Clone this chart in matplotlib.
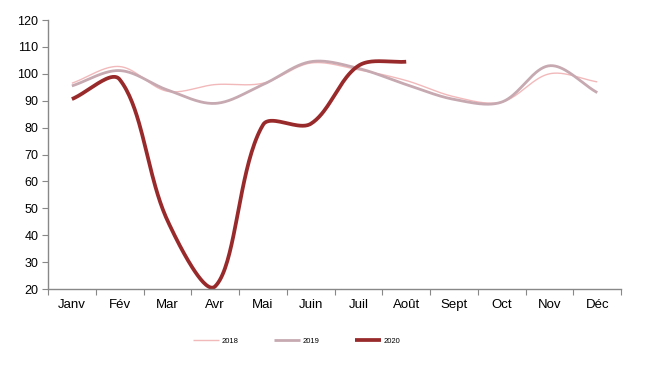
import numpy as np
import matplotlib
matplotlib.use('Agg')
import matplotlib.pyplot as plt

plt.rcParams['font.family'] = ['Liberation Sans', 'DejaVu Sans']

months = ['Janv', 'Fév', 'Mar', 'Avr', 'Mai', 'Juin', 'Juil', 'Août', 'Sept', 'Oct', 'Nov', 'Déc']
v2018 = [96.5, 102.7, 93.5, 96, 96.5, 104, 101.5, 97.5, 91.5, 89.5, 100, 97]
v2019 = [95.5, 101.2, 94, 89, 96, 104.5, 102, 96, 90.5, 89.5, 103, 93]
v2020 = [90.6, 97.9, 45.5, 21, 81, 81.4, 103, 104.5]

# pixel scale of one unit in x and y, used to smooth like a spreadsheet would
XPX, YPX = 47.8, 2.69


def smooth(vals, n=40, f=1 / 3):
    """Bezier smoothing through the points, handles scaled by segment length."""
    p = np.column_stack([np.arange(len(vals)) * XPX, np.asarray(vals, float) * YPX])
    m = len(p)
    cin, cout = [], []
    for i in range(m):
        p0 = p[i - 1] if i > 0 else p[i]
        p2 = p[i + 1] if i < m - 1 else p[i]
        tvec = p2 - p0
        d01 = np.linalg.norm(p[i] - p0)
        d12 = np.linalg.norm(p2 - p[i])
        tot = d01 + d12 if d01 + d12 > 0 else 1
        cin.append(p[i] - tvec * f * d01 / tot)
        cout.append(p[i] + tvec * f * d12 / tot)
    out = [p[0]]
    t = np.linspace(0, 1, n)[1:, None]
    for i in range(m - 1):
        p1, c1, c2, p2 = p[i], cout[i], cin[i + 1], p[i + 1]
        seg = ((1 - t) ** 3) * p1 + 3 * ((1 - t) ** 2) * t * c1 + 3 * (1 - t) * t ** 2 * c2 + t ** 3 * p2
        out.extend(seg)
    out = np.array(out)
    return out[:, 0] / XPX, out[:, 1] / YPX


fig = plt.figure(figsize=(6.55, 3.67), dpi=100)
ax = fig.add_axes([0.0733, 0.2125, 0.875, 0.733])

series = [
    (v2018, '2018', '#f2b9bb', 1.0),
    (v2019, '2019', '#c6a9b1', 2.0),
    (v2020, '2020', '#992a2b', 2.7),
]
for vals, lab, col, lw in series:
    x, y = smooth(vals)
    ax.plot(x, y, color=col, lw=lw, label=lab, solid_capstyle='butt')

ax.set_xlim(-0.5, 11.5)
ax.set_ylim(20, 120)
ax.set_yticks(np.arange(20, 121, 10))
ax.set_xticks(np.arange(-0.5, 12, 1))
ax.set_xticklabels([])
ax.set_xticks(np.arange(12), minor=True)
ax.set_xticklabels(months, minor=True)
ax.tick_params(axis='x', which='minor', length=0, pad=7, labelsize=9.5)
ax.tick_params(axis='x', which='major', length=4, color='#888888', direction='out')
ax.tick_params(axis='y', length=4, color='#888888', labelsize=9, pad=3)
for s in ['top', 'right']:
    ax.spines[s].set_visible(False)
for s in ['left', 'bottom']:
    ax.spines[s].set_color('#888888')
    ax.spines[s].set_linewidth(1.0)

fig.legend(loc='center', bbox_to_anchor=(0.453, 0.071), ncol=3, frameon=False,
           fontsize=5.5, handlelength=3.4, columnspacing=4.6, handletextpad=0.4)

fig.savefig('out.png', dpi=100)
